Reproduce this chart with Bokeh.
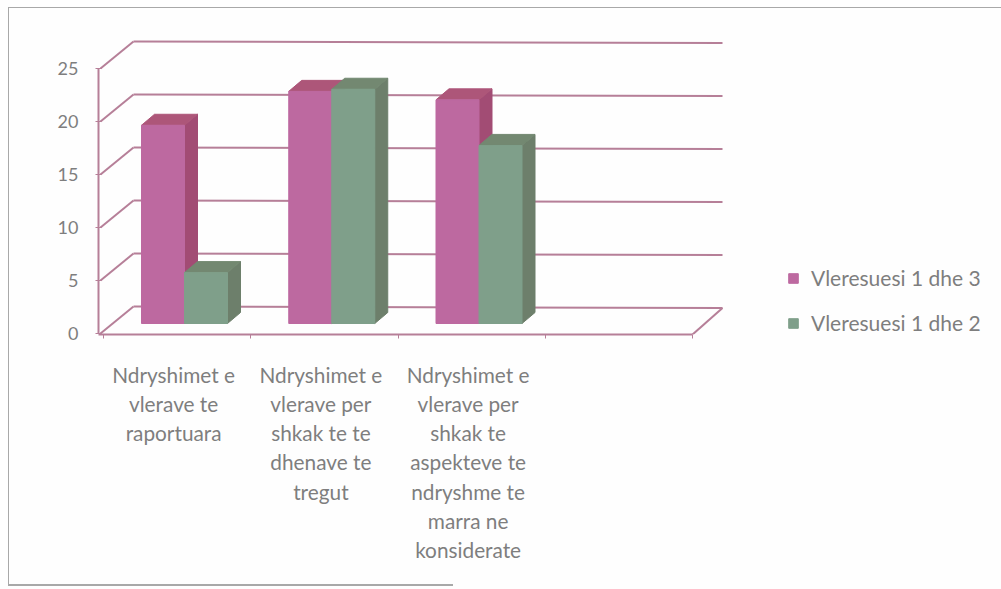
from bokeh.plotting import figure
from bokeh.models import Range1d, LinearAxis, FixedTicker, Legend, LegendItem
from bokeh.embed import file_html
from bokeh.resources import INLINE

categories = [
    "Ndryshimet e\nvlerave te\nraportuara",
    "Ndryshimet e\nvlerave per\nshkak te te\ndhenave te\ntregut",
    "Ndryshimet e\nvlerave per\nshkak te\naspekteve te\nndryshme te\nmarra ne\nkonsiderate",
]
series_names = ["Vleresuesi 1 dhe 3", "Vleresuesi 1 dhe 2"]
values_13 = [18.7, 21.9, 21.1]
values_12 = [4.8, 22.1, 16.8]
y_ticks = [0, 5, 10, 15, 20, 25]
slots = 4

PX_X = 147.25   # pixels per category slot
PX_Y = 10.6     # pixels per value unit
FONT = "Lato"
TXT = "#7e7e7e"
GRID = "#b67f98"

W, H = 1001, 589
p = figure(width=W, height=H, output_backend="svg", toolbar_location=None,
           x_range=Range1d(-5 / PX_X, -5 / PX_X + 903 / PX_X),
           y_range=Range1d(-1 / PX_Y, 333 / PX_Y),
           x_axis_type=None, y_axis_type=None,
           min_border_left=98, min_border_right=0, min_border_top=0, min_border_bottom=255)
p.grid.visible = False
p.outline_line_color = None
p.background_fill_color = None
p.border_fill_color = None
p.styles = {
    "background-color": "#fefefe",
    "background-image": "linear-gradient(#a8a8a8,#a8a8a8),linear-gradient(#a8a8a8,#a8a8a8),linear-gradient(#a8a8a8,#a8a8a8)",
    "background-size": "993px 1px,1px 578px,445px 2px",
    "background-position": "8px 7px,8px 7px,8px 584px",
    "background-repeat": "no-repeat",
}

# y axis
yax = LinearAxis(ticker=FixedTicker(ticks=y_ticks), bounds=(0, 25),
                 axis_line_color=GRID, axis_line_width=2,
                 major_tick_line_color=GRID, major_tick_out=3, major_tick_in=3,
                 minor_tick_line_color=None, major_label_standoff=17,
                 major_label_text_font=FONT, major_label_text_font_size="18px",
                 major_label_text_color=TXT)
p.add_layout(yax, "left")

# x axis: tick marks on slot boundaries
xt = LinearAxis(ticker=FixedTicker(ticks=list(range(slots + 1))), bounds=(-5 / PX_X, slots),
                axis_line_color=GRID, axis_line_width=2,
                major_tick_line_color=GRID, major_tick_out=4, major_tick_in=0,
                minor_tick_line_color=None, major_label_standoff=0,
                major_label_text_font_size="1px",
                major_label_overrides={i: "" for i in range(slots + 1)})
p.add_layout(xt, "below")

# x axis: category labels near slot centres
centres = [i + 0.5 - 3.5 / PX_X for i in range(len(categories))]
xl = LinearAxis(ticker=FixedTicker(ticks=centres), axis_line_color=None,
                major_tick_line_color=None, minor_tick_line_color=None,
                major_label_standoff=17, major_label_text_font=FONT,
                major_label_text_font_size="20.8px", major_label_text_color=TXT,
                major_label_text_line_height=1.17,
                major_label_overrides=dict(zip(centres, categories)))
p.add_layout(xl, "below")

# 3D box: walls and gridlines
wall_dx = 30 / PX_X
wall_dy_l, wall_dy_r = 27 / PX_Y, 25.5 / PX_Y
wall_len = slots + wall_dx
p.segment(x0=[-3 / PX_X] * len(y_ticks), y0=y_ticks,
          x1=[wall_dx] * len(y_ticks), y1=[t + wall_dy_l for t in y_ticks],
          line_color=GRID, line_width=2)
p.segment(x0=[wall_dx] * len(y_ticks), y0=[t + wall_dy_l for t in y_ticks],
          x1=[wall_len] * len(y_ticks), y1=[t + wall_dy_r for t in y_ticks],
          line_color=GRID, line_width=2)
p.segment(x0=[slots], y0=[-0.1], x1=[wall_len], y1=[wall_dy_r], line_color=GRID, line_width=2)

# bars
bar_w = 43 / PX_X
gap = 38 / PX_X
base = 10 / PX_Y
dx, dy = 13 / PX_X, 11 / PX_Y


def boxes(vals, shift, front, side, top):
    l = [i + gap + shift * bar_w for i in range(len(vals))]
    r = [a + bar_w for a in l]
    t = [v + base for v in vals]
    p.patches(xs=[[b, b + dx, b + dx, b] for b in r],
              ys=[[base, base + dy, y + dy, y] for y in t],
              fill_color=side, line_color=side)
    p.patches(xs=[[a, a + dx, b + dx, b] for a, b in zip(l, r)],
              ys=[[y, y + dy, y + dy, y] for y in t],
              fill_color=top, line_color=top)
    return p.quad(left=l, right=r, bottom=[base] * len(vals), top=t,
                  fill_color=front, line_color=front)


r1 = boxes(values_13, 0, "#bd69a0", "#a24c74", "#ad5679")
r2 = boxes(values_12, 1, "#7f9f8a", "#6d7f6b", "#738871")

legend = Legend(items=[LegendItem(label=series_names[0], renderers=[r1]),
                       LegendItem(label=series_names[1], renderers=[r2])],
                location=(689, -1), orientation="vertical",
                background_fill_color=None, border_line_color=None,
                padding=0, margin=0, spacing=20, glyph_width=12, glyph_height=12,
                label_standoff=12, label_text_font=FONT, label_text_font_size="21px",
                label_text_color=TXT, label_height=18)
p.add_layout(legend, "center")

open("out.html", "w").write(file_html(p, INLINE))
